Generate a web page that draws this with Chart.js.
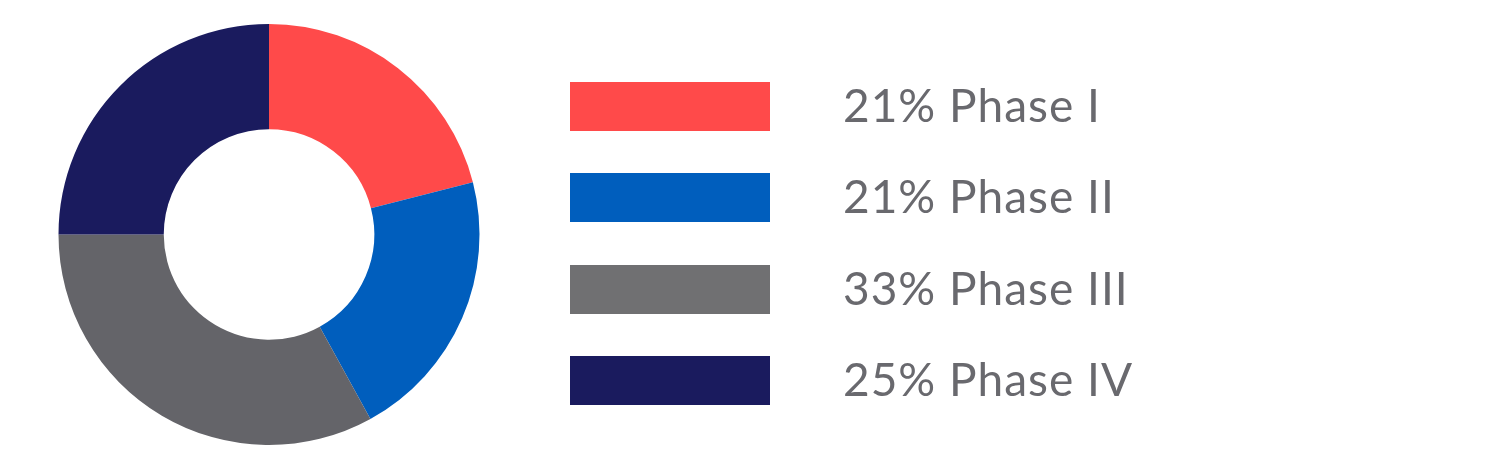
<!DOCTYPE html>
<html>
<head>
<meta charset="utf-8">
<script src="https://cdn.jsdelivr.net/npm/chart.js@4"></script>
<style>
  html, body { margin: 0; padding: 0; background: #fff; }
  #wrap { position: relative; width: 1500px; height: 456px; }
  #phaseChart { position: absolute; left: 0; top: 0; }
  #legend { position: absolute; left: 570px; top: 82px; }
  .row { display: flex; align-items: center; height: 49px; margin-bottom: 42.3px; }
  .box { width: 200px; height: 49px; flex: none; }
  .label {
    margin-left: 73px;
    position: relative;
    top: -2px;
    font-family: Lato, "Open Sans", sans-serif;
    font-size: 46px;
    letter-spacing: 1px;
    color: #69696e;
    white-space: nowrap;
  }
</style>
</head>
<body>
<div id="wrap">
  <canvas id="phaseChart" width="1500" height="456"></canvas>
  <div id="legend"></div>
</div>
<script>
// Chart data
const phases = ["Phase I", "Phase II", "Phase III", "Phase IV"];
const shares = [21, 21, 33, 25];
const sliceColors = ["#FF4A4A", "#005EBD", "#646469", "#1A1B5E"];
const legendColors = ["#FF4A4A", "#005EBD", "#707072", "#1A1B5E"];

const ctx = document.getElementById("phaseChart").getContext("2d");
const phaseChart = new Chart(ctx, {
  type: "doughnut",
  data: {
    labels: phases,
    datasets: [
      {
        data: shares,
        backgroundColor: sliceColors,
        borderWidth: 0,
      },
    ],
  },
  options: {
    responsive: false,
    animation: false,
    cutout: "50%",
    layout: {
      padding: { left: 58, right: 1020, top: 24, bottom: 11 },
    },
    plugins: {
      legend: { display: false },
      tooltip: { enabled: false },
    },
  },
});

// Build the legend next to the doughnut
const legend = document.getElementById("legend");
phases.forEach((name, i) => {
  const row = document.createElement("div");
  row.className = "row";
  const box = document.createElement("div");
  box.className = "box";
  box.style.background = legendColors[i];
  const label = document.createElement("span");
  label.className = "label";
  label.textContent = `${shares[i]}% ${name}`;
  row.appendChild(box);
  row.appendChild(label);
  legend.appendChild(row);
});
</script>
</body>
</html>
